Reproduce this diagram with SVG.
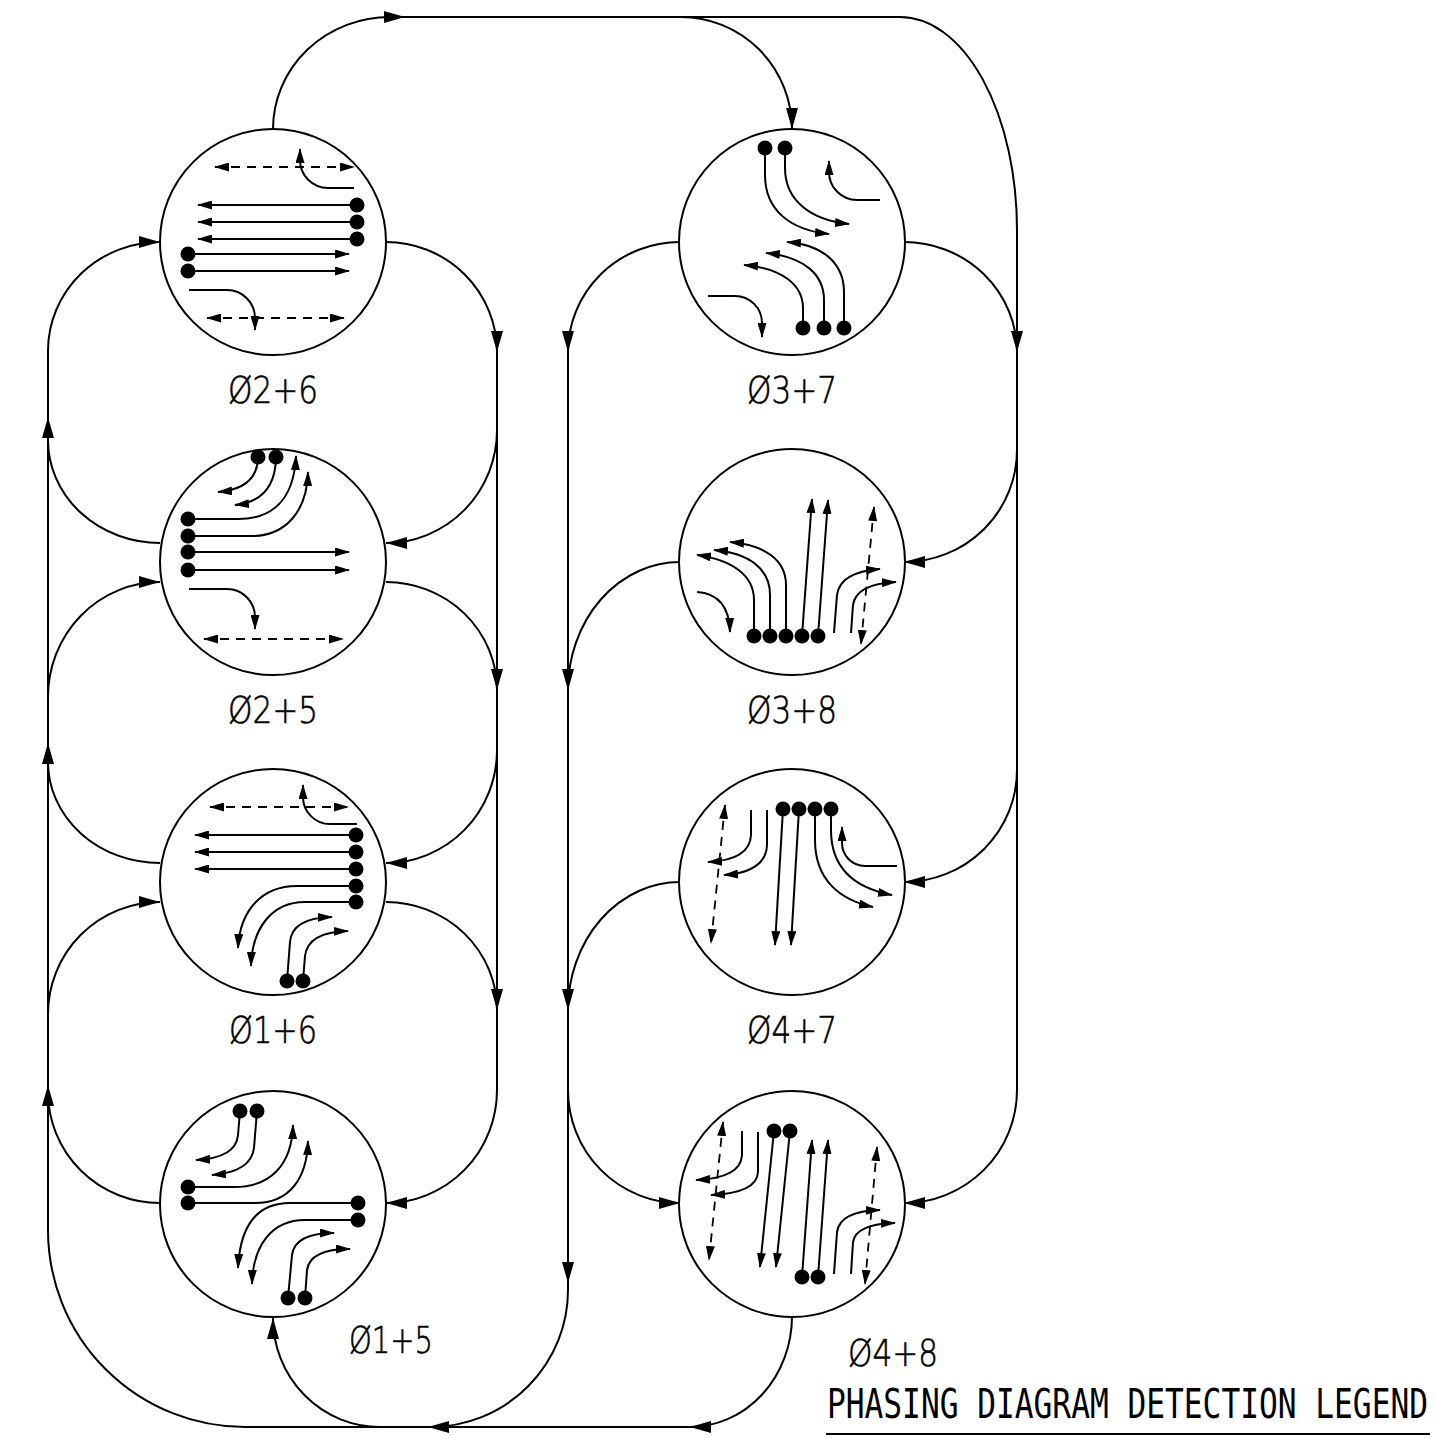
<svg xmlns="http://www.w3.org/2000/svg" width="1438" height="1438" viewBox="0 0 1438 1438">
<defs>
<marker id="a" viewBox="0 0 21 12" refX="21" refY="6" markerWidth="21" markerHeight="12" orient="auto" markerUnits="userSpaceOnUse"><path d="M0,0 L21,6 L0,12 z" fill="#000"/></marker>
<marker id="s" viewBox="0 0 15 9" refX="14" refY="4.5" markerWidth="15" markerHeight="9" orient="auto-start-reverse" markerUnits="userSpaceOnUse"><path d="M0,0 L15,4.5 L0,9 z" fill="#000"/></marker>
</defs>
<style>
.c{fill:#fff;stroke:#000;stroke-width:2}
.l{fill:none;stroke:#000;stroke-width:2}
.k{fill:none;stroke:#000;stroke-width:2;marker-end:url(#a)}
.i{fill:none;stroke:#000;stroke-width:2;marker-end:url(#s)}
.d{fill:none;stroke:#000;stroke-width:1.8;stroke-dasharray:9 7;marker-start:url(#s);marker-end:url(#s)}
.dot{fill:#000}
.t{font-family:"DejaVu Sans","Liberation Sans",sans-serif;font-weight:200;font-size:37px;fill:#000;stroke:#000;stroke-width:0.6}
.g{font-family:"DejaVu Sans Mono","Liberation Mono",monospace;font-size:31px;fill:#000}
</style>
<rect width="1438" height="1438" fill="#fff"/>
<g id="connectors">
<path class="l" d="M273,129 A117,112 0 0 1 390,17"/>
<path class="k" d="M385,17 H405"/>
<path class="l" d="M390,17 H900 A117,213 0 0 1 1017,230 V1090"/>
<path class="k" d="M1017,1090 A113,113 0 0 1 904,1203"/>
<path class="k" d="M681,17 A111,112 0 0 1 792,129"/>
<path class="k" d="M904,242 A113,110 0 0 1 1017,352"/>
<path class="k" d="M1017,450 A113,112 0 0 1 904,562"/>
<path class="k" d="M1017,770 A113,112 0 0 1 904,882"/>
<path class="k" d="M680,242 A112,110 0 0 0 568,352"/>
<path class="k" d="M680,562 A112,128 0 0 0 568,690"/>
<path class="k" d="M680,882 A112,128 0 0 0 568,1010"/>
<path class="k" d="M568,1090 A112,113 0 0 0 680,1203"/>
<path class="l" d="M568,350 V1290 A138,137 0 0 1 431,1427"/>
<path class="k" d="M568,1258 V1283"/>
<path class="k" d="M450,1427 H428"/>
<path class="l" d="M245,1427 H700"/>
<path class="k" d="M792,1316 A102,111 0 0 1 690,1427"/>
<path class="k" d="M380,1427 A107,109 0 0 1 273,1318"/>
<path class="k" d="M245,1427 A197,197 0 0 1 48,1230 V350 A112,109 0 0 1 160,242"/>
<path class="k" d="M48,440 V417"/>
<path class="k" d="M48,765 V743"/>
<path class="k" d="M48,1108 V1085"/>
<path class="l" d="M160,543 A112,103 0 0 1 48,440"/>
<path class="k" d="M48,697 A112,115 0 0 1 160,582"/>
<path class="l" d="M160,863 A112,101 0 0 1 48,762"/>
<path class="k" d="M48,1014 A112,112 0 0 1 160,902"/>
<path class="l" d="M160,1203 A112,111 0 0 1 48,1092"/>
<path class="k" d="M386,242 A111,110 0 0 1 497,352"/>
<path class="l" d="M497,350 V1090"/>
<path class="k" d="M497,1090 A111,113 0 0 1 386,1203"/>
<path class="k" d="M497,430 A111,113 0 0 1 386,543"/>
<path class="k" d="M386,582 A111,108 0 0 1 497,690"/>
<path class="k" d="M497,750 A111,113 0 0 1 386,863"/>
<path class="k" d="M386,902 A111,108 0 0 1 497,1010"/>
</g>

<g id="p26">
<circle class="c" cx="273" cy="242" r="113"/>
<path class="d" d="M215,167 H354"/>
<path class="i" d="M354,188 H328 A28,28 0 0 1 300,160 V149"/>
<path class="i" d="M357,205 H198"/>
<path class="i" d="M357,222 H198"/>
<path class="i" d="M357,239 H198"/>
<path class="i" d="M188,254 H349"/>
<path class="i" d="M188,271 H349"/>
<path class="i" d="M189,290 H227 A28,28 0 0 1 255,318 V330"/>
<path class="d" d="M207,318 H344"/>
<circle class="dot" cx="357" cy="205" r="7.5"/>
<circle class="dot" cx="357" cy="222" r="7.5"/>
<circle class="dot" cx="357" cy="239" r="7.5"/>
<circle class="dot" cx="188" cy="254" r="7.5"/>
<circle class="dot" cx="188" cy="271" r="7.5"/>
<text class="t" x="228" y="403" textLength="90" lengthAdjust="spacingAndGlyphs">Ø2+6</text>
</g>

<g id="p25">
<circle class="c" cx="273" cy="562" r="113"/>
<path class="i" d="M258,458 Q257,489 218,492"/>
<path class="i" d="M276,458 Q275,501 235,505"/>
<path class="i" d="M188,519 H238 C272,519 294,500 296,456"/>
<path class="i" d="M188,536 H252 C285,536 307,512 308,472"/>
<path class="i" d="M188,552 H349"/>
<path class="i" d="M188,570 H349"/>
<path class="i" d="M189,589 H227 A28,28 0 0 1 255,617 V629"/>
<path class="d" d="M204,639 H343"/>
<circle class="dot" cx="258" cy="457" r="7.5"/>
<circle class="dot" cx="276" cy="457" r="7.5"/>
<circle class="dot" cx="188" cy="519" r="7.5"/>
<circle class="dot" cx="188" cy="536" r="7.5"/>
<circle class="dot" cx="188" cy="552" r="7.5"/>
<circle class="dot" cx="188" cy="570" r="7.5"/>
<text class="t" x="228" y="723" textLength="90" lengthAdjust="spacingAndGlyphs">Ø2+5</text>
</g>

<g id="p16">
<circle class="c" cx="273" cy="882" r="113"/>
<path class="d" d="M210,807 H348"/>
<path class="i" d="M357,824 H330 A27,27 0 0 1 303,797 V785"/>
<path class="i" d="M356,835 H195"/>
<path class="i" d="M356,852 H195"/>
<path class="i" d="M356,869 H195"/>
<path class="i" d="M356,886 H297 C262,886 240,910 238,948"/>
<path class="i" d="M356,902 H305 C272,902 252,928 251,966"/>
<path class="i" d="M287,981 L290,942 Q292,918 332,917"/>
<path class="i" d="M303,981 L305,956 Q308,932 348,931"/>
<circle class="dot" cx="356" cy="835" r="7.5"/>
<circle class="dot" cx="356" cy="852" r="7.5"/>
<circle class="dot" cx="356" cy="869" r="7.5"/>
<circle class="dot" cx="356" cy="886" r="7.5"/>
<circle class="dot" cx="356" cy="902" r="7.5"/>
<circle class="dot" cx="287" cy="981" r="7.5"/>
<circle class="dot" cx="303" cy="981" r="7.5"/>
<text class="t" x="229" y="1043" textLength="88" lengthAdjust="spacingAndGlyphs">Ø1+6</text>
</g>

<g id="p15">
<circle class="c" cx="273" cy="1204" r="113"/>
<path class="i" d="M240,1111 L238,1135 Q236,1158 196,1160"/>
<path class="i" d="M257,1111 L254,1148 Q251,1172 212,1175"/>
<path class="i" d="M188,1187 H235 C270,1187 292,1165 293,1125"/>
<path class="i" d="M188,1203 H255 C290,1203 307,1178 308,1141"/>
<path class="i" d="M358,1203 H290 C255,1203 240,1228 238,1268"/>
<path class="i" d="M358,1220 H305 C272,1220 253,1245 252,1284"/>
<path class="i" d="M288,1298 L292,1255 Q295,1233 334,1233"/>
<path class="i" d="M305,1298 L307,1270 Q310,1249 350,1249"/>
<circle class="dot" cx="240" cy="1111" r="7.5"/>
<circle class="dot" cx="257" cy="1111" r="7.5"/>
<circle class="dot" cx="188" cy="1187" r="7.5"/>
<circle class="dot" cx="188" cy="1203" r="7.5"/>
<circle class="dot" cx="358" cy="1203" r="7.5"/>
<circle class="dot" cx="358" cy="1220" r="7.5"/>
<circle class="dot" cx="288" cy="1298" r="7.5"/>
<circle class="dot" cx="305" cy="1298" r="7.5"/>
<text class="t" x="349" y="1353" textLength="84" lengthAdjust="spacingAndGlyphs">Ø1+5</text>
</g>

<g id="p37">
<circle class="c" cx="792" cy="242" r="113"/>
<path class="i" d="M765,148 V175 C765,210 790,230 829,234"/>
<path class="i" d="M785,148 V168 C785,200 810,220 849,224"/>
<path class="i" d="M880,200 H857 A28,28 0 0 1 829,172 V161"/>
<path class="i" d="M803,328 V308 C803,285 782,268 744,265"/>
<path class="i" d="M824,328 V300 C824,275 805,257 766,253"/>
<path class="i" d="M844,328 V292 C844,265 825,245 787,242"/>
<path class="i" d="M708,296 H735 A27,27 0 0 1 762,323 V337"/>
<circle class="dot" cx="765" cy="148" r="7.5"/>
<circle class="dot" cx="785" cy="148" r="7.5"/>
<circle class="dot" cx="803" cy="328" r="7.5"/>
<circle class="dot" cx="824" cy="328" r="7.5"/>
<circle class="dot" cx="844" cy="328" r="7.5"/>
<text class="t" x="747" y="403" textLength="90" lengthAdjust="spacingAndGlyphs">Ø3+7</text>
</g>

<g id="p38">
<circle class="c" cx="792" cy="562" r="113"/>
<path class="i" d="M754,636 V600 C754,575 732,560 697,555"/>
<path class="i" d="M770,636 V595 C770,568 748,553 714,550"/>
<path class="i" d="M786,636 V585 C786,560 765,545 730,542"/>
<path class="i" d="M802,636 L812,499"/>
<path class="i" d="M818,636 L828,500"/>
<path class="i" d="M697,592 Q729,594 730,632"/>
<path class="i" d="M834,633 L837,595 Q840,572 880,569"/>
<path class="i" d="M851,633 L853,605 Q856,584 896,582"/>
<path class="d" d="M874,507 L861,644"/>
<circle class="dot" cx="754" cy="636" r="7.5"/>
<circle class="dot" cx="770" cy="636" r="7.5"/>
<circle class="dot" cx="786" cy="636" r="7.5"/>
<circle class="dot" cx="802" cy="636" r="7.5"/>
<circle class="dot" cx="818" cy="636" r="7.5"/>
<text class="t" x="747" y="723" textLength="90" lengthAdjust="spacingAndGlyphs">Ø3+8</text>
</g>

<g id="p47">
<circle class="c" cx="792" cy="882" r="113"/>
<path class="i" d="M783,809 L775,945"/>
<path class="i" d="M799,809 L791,945"/>
<path class="i" d="M815,809 V840 C815,880 840,900 873,907"/>
<path class="i" d="M831,809 V830 C831,868 855,888 892,895"/>
<path class="i" d="M897,866 H865 A23,23 0 0 1 842,843 V827"/>
<path class="i" d="M751,810 V835 Q750,860 708,862"/>
<path class="i" d="M767,810 V845 Q766,872 724,875"/>
<path class="d" d="M725,805 L711,943"/>
<circle class="dot" cx="783" cy="809" r="7.5"/>
<circle class="dot" cx="799" cy="809" r="7.5"/>
<circle class="dot" cx="815" cy="809" r="7.5"/>
<circle class="dot" cx="831" cy="809" r="7.5"/>
<text class="t" x="747" y="1043" textLength="90" lengthAdjust="spacingAndGlyphs">Ø4+7</text>
</g>

<g id="p48">
<circle class="c" cx="792" cy="1204" r="113"/>
<path class="i" d="M774,1131 L760,1267"/>
<path class="i" d="M790,1131 L776,1267"/>
<path class="i" d="M802,1277 L812,1140"/>
<path class="i" d="M818,1277 L828,1140"/>
<path class="i" d="M742,1131 V1155 Q741,1178 696,1180"/>
<path class="i" d="M758,1132 V1172 Q757,1193 711,1195"/>
<path class="d" d="M723,1122 L709,1260"/>
<path class="i" d="M834,1274 L837,1232 Q840,1211 880,1210"/>
<path class="i" d="M851,1274 L853,1242 Q856,1224 895,1223"/>
<path class="d" d="M877,1147 L865,1284"/>
<circle class="dot" cx="774" cy="1131" r="7.5"/>
<circle class="dot" cx="790" cy="1131" r="7.5"/>
<circle class="dot" cx="802" cy="1277" r="7.5"/>
<circle class="dot" cx="818" cy="1277" r="7.5"/>
<text class="t" x="848" y="1366" textLength="90" lengthAdjust="spacingAndGlyphs">Ø4+8</text>
</g>

<g id="legend">
<text class="g" transform="translate(827,1418) scale(1,1.3)" textLength="601" lengthAdjust="spacingAndGlyphs">PHASING DIAGRAM DETECTION LEGEND</text>
<line x1="826" y1="1434" x2="1430" y2="1434" stroke="#000" stroke-width="2"/>
</g>
</svg>
